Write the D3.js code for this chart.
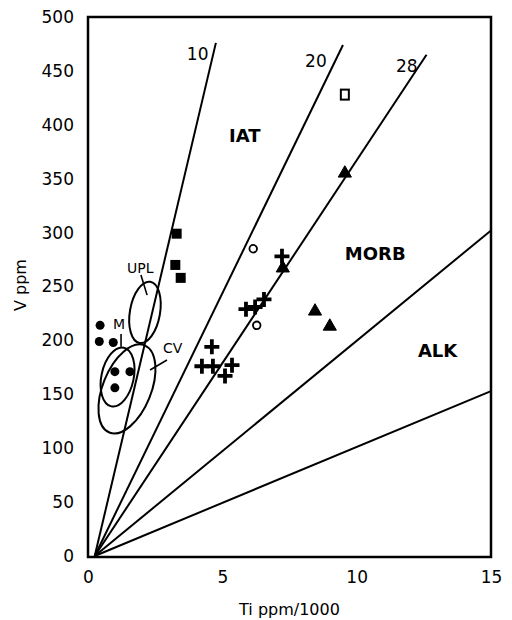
<!DOCTYPE html>
<html>
<head>
<meta charset="utf-8">
<script src="https://cdn.jsdelivr.net/npm/d3@7"></script>
<style>
  body { margin: 0; background: #fff; }
  text { font-family: "DejaVu Sans", sans-serif; fill: #000; }
</style>
</head>
<body>
<svg width="512" height="620"></svg>
<script>
// tick labels
var xTicks = [0, 5, 10, 15];
var yTicks = [0, 50, 100, 150, 200, 250, 300, 350, 400, 450, 500];

// Ti/V discriminant lines (Ti ppm/1000, V ppm): start and end points
var ratioLines = [
  {name: "10",  x1: 0.25, y1: 0, x2: 4.76,  y2: 476},
  {name: "20",  x1: 0.25, y1: 0, x2: 9.49,  y2: 474},
  {name: "28",  x1: 0.25, y1: 0, x2: 12.6,  y2: 465},
  {name: "50",  x1: 0.25, y1: 0, x2: 15,    y2: 302},
  {name: "100", x1: 0.25, y1: 0, x2: 15,    y2: 153}
];

// samples
var filledSquares = [[3.3, 299], [3.25, 270], [3.45, 258]];
var openSquares = [[9.56, 428]];
var filledCircles = [[0.45, 214], [0.42, 199], [0.94, 198], [1.0, 171], [1.56, 171], [1.0, 156]];
var openCircles = [[6.15, 285], [6.28, 214]];
var crosses = [[4.61, 194], [4.24, 176], [4.65, 176], [5.36, 177], [5.10, 167],
               [5.88, 229], [6.22, 231], [6.55, 238], [7.22, 278]];
var triangles = [[9.56, 355], [7.25, 267], [8.45, 227], [9.0, 213]];

// field ellipses: centre, half-axes (data units), tilt in degrees
var fields = [
  {name: "UPL", cx: 2.12, cy: 226, rx: 0.56, ry: 28.8, tilt: 10},
  {name: "M",   cx: 1.10, cy: 166, rx: 0.60, ry: 27.8, tilt: 12},
  {name: "CV",  cx: 1.45, cy: 155, rx: 0.90, ry: 43.6, tilt: 22}
];

// labels (data coordinates of text start / baseline)
var lineLabels = [
  {text: "10", x: 3.68, y: 460},
  {text: "20", x: 8.08, y: 454},
  {text: "28", x: 11.46, y: 449}
];
var regionLabels = [
  {text: "IAT",  x: 5.25,  y: 384},
  {text: "MORB", x: 9.56,  y: 275},
  {text: "ALK",  x: 12.28, y: 185}
];
var fieldLabels = [
  {text: "UPL", x: 1.45, y: 262.5, lx1: 1.97, ly1: 260.7, lx2: 2.20, ly2: 242},
  {text: "M",   x: 0.93, y: 210.6, lx1: 1.23, ly1: 206,   lx2: 1.23, ly2: 194},
  {text: "CV",  x: 2.79, y: 188.3, lx1: 2.31, ly1: 172.5, lx2: 2.94, ly2: 181.8}
];

var svg = d3.select("svg"),
    margin = {top: 17, right: 21, bottom: 63, left: 88},
    width = +svg.attr("width") - margin.left - margin.right,
    height = +svg.attr("height") - margin.top - margin.bottom,
    chart = svg.append("g").attr("transform", "translate(" + margin.left + "," + margin.top + ")");

var x = d3.scaleLinear().domain([0, 15]).range([0, width]);
var y = d3.scaleLinear().domain([0, 500]).range([height - 1, 0]);

// axes: labels only, frame drawn below
var xAxis = chart.append("g")
  .attr("transform", "translate(0," + height + ")")
  .call(d3.axisBottom(x).tickValues(xTicks).tickSize(0).tickPadding(14));
var yAxis = chart.append("g")
  .call(d3.axisLeft(y).tickValues(yTicks).tickSize(0).tickPadding(14));
[xAxis, yAxis].forEach(function(a) {
  a.select(".domain").remove();
  a.selectAll("text").style("font-size", "17px").style("font-family", '"DejaVu Sans", sans-serif').attr("fill", "#000");
});

chart.append("rect")
  .attr("x", 0).attr("y", 0).attr("width", width).attr("height", height)
  .attr("fill", "none").attr("stroke", "#000").attr("stroke-width", 2.5);

// discriminant lines
chart.selectAll(".ratio")
  .data(ratioLines)
  .enter().append("line")
  .attr("class", "ratio")
  .attr("x1", function(d) { return x(d.x1); })
  .attr("y1", function(d) { return y(d.y1); })
  .attr("x2", function(d) { return x(d.x2); })
  .attr("y2", function(d) { return y(d.y2); })
  .attr("stroke", "#000").attr("stroke-width", 2);

// fields
chart.selectAll(".field")
  .data(fields)
  .enter().append("ellipse")
  .attr("class", "field")
  .attr("transform", function(d) { return "translate(" + x(d.cx) + "," + y(d.cy) + ") rotate(" + d.tilt + ")"; })
  .attr("rx", function(d) { return x(d.rx) - x(0); })
  .attr("ry", function(d) { return y(0) - y(d.ry); })
  .attr("fill", "none").attr("stroke", "#000").attr("stroke-width", 2);

chart.selectAll(".leader")
  .data(fieldLabels)
  .enter().append("line")
  .attr("class", "leader")
  .attr("x1", function(d) { return x(d.lx1); })
  .attr("y1", function(d) { return y(d.ly1); })
  .attr("x2", function(d) { return x(d.lx2); })
  .attr("y2", function(d) { return y(d.ly2); })
  .attr("stroke", "#000").attr("stroke-width", 1.6);

chart.selectAll(".fieldLabel")
  .data(fieldLabels)
  .enter().append("text")
  .attr("x", function(d) { return x(d.x); })
  .attr("y", function(d) { return y(d.y); })
  .style("font-size", "14px")
  .text(function(d) { return d.text; });

chart.selectAll(".lineLabel")
  .data(lineLabels)
  .enter().append("text")
  .attr("x", function(d) { return x(d.x); })
  .attr("y", function(d) { return y(d.y); })
  .style("font-size", "17px")
  .text(function(d) { return d.text; });

chart.selectAll(".regionLabel")
  .data(regionLabels)
  .enter().append("text")
  .attr("x", function(d) { return x(d.x); })
  .attr("y", function(d) { return y(d.y); })
  .style("font-size", "18px").style("font-weight", "bold")
  .text(function(d) { return d.text; });

// symbols
chart.selectAll(".fsq")
  .data(filledSquares)
  .enter().append("rect")
  .attr("x", function(d) { return x(d[0]) - 5; })
  .attr("y", function(d) { return y(d[1]) - 5; })
  .attr("width", 10).attr("height", 10)
  .attr("fill", "#000");

chart.selectAll(".osq")
  .data(openSquares)
  .enter().append("rect")
  .attr("x", function(d) { return x(d[0]) - 4; })
  .attr("y", function(d) { return y(d[1]) - 5; })
  .attr("width", 8).attr("height", 10)
  .attr("fill", "none").attr("stroke", "#000").attr("stroke-width", 2);

chart.selectAll(".fc")
  .data(filledCircles)
  .enter().append("circle")
  .attr("cx", function(d) { return x(d[0]); })
  .attr("cy", function(d) { return y(d[1]); })
  .attr("r", 4.5)
  .attr("fill", "#000");

chart.selectAll(".oc")
  .data(openCircles)
  .enter().append("circle")
  .attr("cx", function(d) { return x(d[0]); })
  .attr("cy", function(d) { return y(d[1]); })
  .attr("r", 3.8)
  .attr("fill", "#fff").attr("stroke", "#000").attr("stroke-width", 1.8);

chart.selectAll(".cross")
  .data(crosses)
  .enter().append("path")
  .attr("transform", function(d) { return "translate(" + x(d[0]) + "," + y(d[1]) + ")"; })
  .attr("d", "M-7.5,0H7.5M0,-7.5V7.5")
  .attr("stroke", "#000").attr("stroke-width", 3.8).attr("fill", "none");

chart.selectAll(".tri")
  .data(triangles)
  .enter().append("path")
  .attr("transform", function(d) { return "translate(" + x(d[0]) + "," + y(d[1]) + ")"; })
  .attr("d", d3.symbol().type(d3.symbolTriangle).size(75))
  .attr("fill", "#000").attr("stroke", "#000").attr("stroke-width", 1).attr("stroke-linejoin", "round");

// axis titles
svg.append("text")
  .attr("x", margin.left + width / 2)
  .attr("y", 615)
  .attr("text-anchor", "middle")
  .style("font-size", "16px")
  .text("Ti ppm/1000");

svg.append("text")
  .attr("transform", "translate(26,285) rotate(-90)")
  .attr("text-anchor", "middle")
  .style("font-size", "16px")
  .text("V ppm");
</script>
</body>
</html>
